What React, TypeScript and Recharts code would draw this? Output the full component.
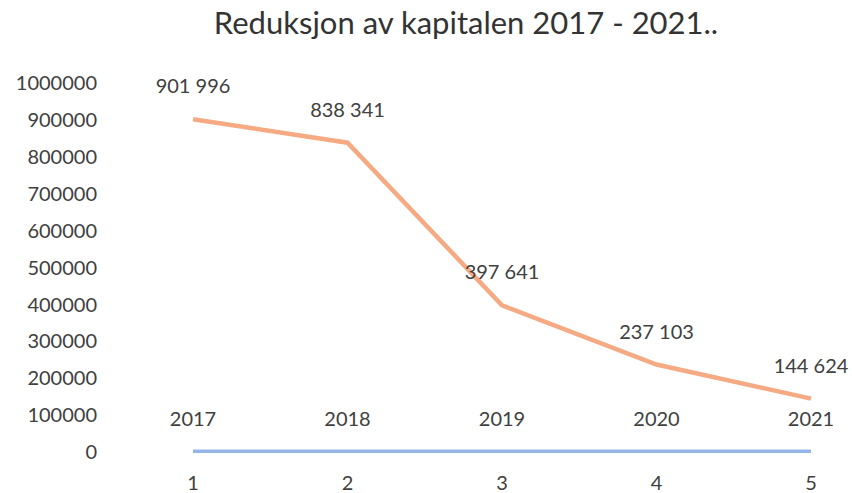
import React from 'react';
import { LineChart, Line, XAxis, YAxis, LabelList } from 'recharts';

// kategorier og verdier
const categories = ['1', '2', '3', '4', '5'];
const kapital = [901996, 838341, 397641, 237103, 144624];
const aar = [2017, 2018, 2019, 2020, 2021];
const yTicks = [0, 100000, 200000, 300000, 400000, 500000, 600000, 700000, 800000, 900000, 1000000];

const data = categories.map((c, i) => ({ cat: c, kapital: kapital[i], aar: aar[i] }));

const FONT = 'Lato, "Open Sans", sans-serif';
const TEXT = '#404040';

const fmtSpace = (v: any) => String(v).replace(/\B(?=(\d{3})+(?!\d))/g, ' ');

const App = () => {
  return (
    <div style={{ position: 'absolute', left: 0, top: 0, width: 852, height: 493, background: '#fff', fontFamily: FONT }}>
      <div
        style={{
          position: 'absolute',
          left: 0,
          top: 4,
          width: 932,
          textAlign: 'center',
          fontSize: 31,
          lineHeight: 1.2,
          color: '#333',
          fontFamily: FONT,
        }}
      >
        Reduksjon av kapitalen 2017 - 2021..
      </div>
      <LineChart width={852} height={493} data={data} margin={{ top: 83, right: 10, left: 0, bottom: 0 }}>
        <XAxis
          dataKey="cat"
          scale="point"
          padding={{ left: 78, right: 31 }}
          axisLine={false}
          tickLine={false}
          tickSize={0}
          tickMargin={24}
          height={41}
          tick={{ fontSize: 20, fill: TEXT, fontFamily: FONT }}
        />
        <YAxis
          domain={[0, 1000000]}
          ticks={yTicks}
          interval={0}
          width={115}
          axisLine={false}
          tickLine={false}
          tickSize={0}
          tickMargin={18}
          tick={{ fontSize: 20, fill: TEXT, fontFamily: FONT }}
        />
        <Line
          dataKey="aar"
          stroke="#94B6E6"
          strokeWidth={3.5}
          dot={false}
          isAnimationActive={false}
        >
          <LabelList dataKey="aar" position="top" offset={25} fill={TEXT} fontSize={20} fontFamily={FONT} />
        </Line>
        <Line
          dataKey="kapital"
          stroke="#F6AA84"
          strokeWidth={4.5}
          dot={false}
          isAnimationActive={false}
        >
          <LabelList dataKey="kapital" position="top" offset={26} fill={TEXT} fontSize={20} fontFamily={FONT} formatter={fmtSpace} />
        </Line>
      </LineChart>
    </div>
  );
};

export default App;
